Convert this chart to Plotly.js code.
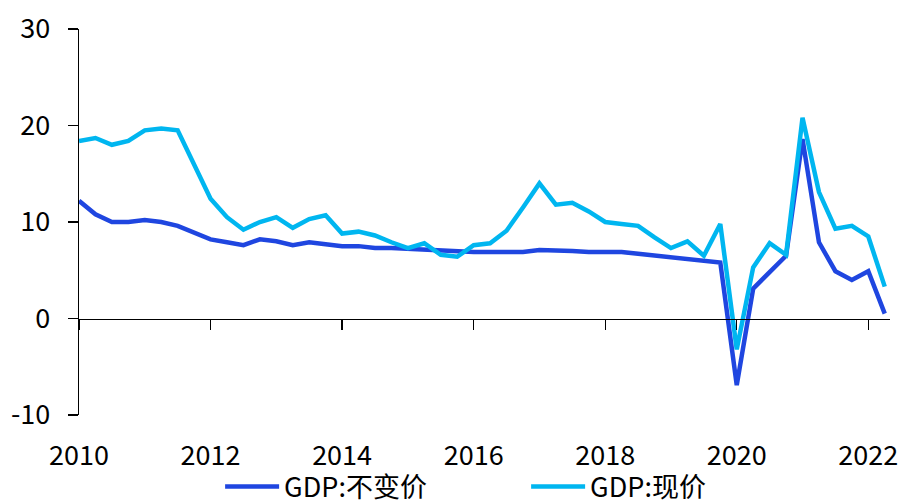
<!DOCTYPE html>
<html>
<head>
<meta charset="utf-8">
<script src="https://cdn.plot.ly/plotly-3.0.1.min.js"></script>
<style>html,body{margin:0;padding:0;background:#fff;}#chart{width:904px;height:500px;}</style>
</head>
<body>
<div id="chart"></div>
<script>
const quarters = [
  '2010Q1','2010Q2','2010Q3','2010Q4','2011Q1','2011Q2','2011Q3','2011Q4',
  '2012Q1','2012Q2','2012Q3','2012Q4','2013Q1','2013Q2','2013Q3','2013Q4',
  '2014Q1','2014Q2','2014Q3','2014Q4','2015Q1','2015Q2','2015Q3','2015Q4',
  '2016Q1','2016Q2','2016Q3','2016Q4','2017Q1','2017Q2','2017Q3','2017Q4',
  '2018Q1','2018Q2','2018Q3','2018Q4','2019Q1','2019Q2','2019Q3','2019Q4',
  '2020Q1','2020Q2','2020Q3','2020Q4','2021Q1','2021Q2','2021Q3','2021Q4',
  '2022Q1','2022Q2'
];
const gdpConstant = [
  12.2,10.8,10.0,10.0, 10.2,10.0,9.6,8.9,
  8.2,7.9,7.6,8.2, 8.0,7.6,7.9,7.7,
  7.5,7.5,7.3,7.3, 7.2,7.1,7.0,7.0,
  6.9,6.9,6.9,6.9, 7.1,7.1,7.0,6.9,
  6.9,6.9,6.7,6.5, 6.4,6.1,6.0,5.8,
  -6.9,3.1,4.8,6.5, 18.6,7.9,4.9,4.0,
  4.9,0.5
];
const gdpCurrent = [
  18.4,18.7,18.0,18.4, 19.5,19.7,19.5,16.0,
  12.4,10.5,9.2,10.0, 10.5,9.4,10.3,10.7,
  8.8,9.0,8.6,7.9, 7.3,7.8,6.6,6.4,
  7.6,7.8,9.1,11.5, 14.0,11.8,12.0,11.1,
  10.0,9.8,9.6,8.4, 7.3,8.0,6.5,9.8,
  -3.2,5.3,7.8,6.6, 20.8,13.1,9.3,9.6,
  8.5,3.3
];
const yearTicks = [2010,2012,2014,2016,2018,2020,2022];
const yTicks = [-10,0,10,20,30];
const yTickText = ['-10','0','10','20','30'];
const names = ['GDP:不变价','GDP:现价'];

const xPos = quarters.map(q => parseInt(q.slice(0,4)) + (parseInt(q.slice(5)) - 1) / 4);
const FONT = '"Noto Sans CJK SC", "Noto Sans", sans-serif';
const FS = 27;
const xRange = [2010, 2022.33];

const data = [
  {x: xPos, y: gdpConstant, name: names[0], type: 'scatter', mode: 'lines',
   line: {color: '#1F46E0', width: 4.5}, xaxis: 'x', yaxis: 'y'},
  {x: xPos, y: gdpCurrent, name: names[1], type: 'scatter', mode: 'lines',
   line: {color: '#00B6F0', width: 4.5}, xaxis: 'x2', yaxis: 'y'}
];

const layout = {
  width: 904, height: 500,
  margin: {l: 79, r: 14, t: 29, b: 85, autoexpand: false},
  paper_bgcolor: '#fff', plot_bgcolor: '#fff',
  font: {family: FONT, size: FS, color: '#000'},
  showlegend: true,
  legend: {orientation: 'h', x: 0.174, xanchor: 'left', y: -0.1865, yanchor: 'middle',
           font: {family: FONT, size: FS, color: '#000'}, itemwidth: 54,
           entrywidth: 237, entrywidthmode: 'pixels',
           bgcolor: 'rgba(0,0,0,0)', traceorder: 'normal'},
  xaxis: {range: xRange, tickvals: yearTicks, ticktext: yearTicks.map(String),
          showgrid: false, zeroline: false, showline: false, ticks: '',
          tickfont: {family: FONT, size: FS, color: '#000'}, ticklabelstandoff: 22},
  xaxis2: {range: xRange, overlaying: 'x', anchor: 'free', position: 0.25, side: 'bottom',
           tickvals: yearTicks, showticklabels: false, showgrid: false, zeroline: false,
           showline: true, linecolor: '#000', linewidth: 1.3,
           ticks: 'outside', ticklen: 10, tickwidth: 1.3, tickcolor: '#000'},
  yaxis: {range: [-10, 30], tickvals: yTicks, ticktext: yTickText, showgrid: false, zeroline: false,
          showline: true, linecolor: '#000', linewidth: 1.3,
          ticks: 'outside', ticklen: 10, tickwidth: 1.3, tickcolor: '#000',
          tickfont: {family: FONT, size: FS, color: '#000'}, ticklabelstandoff: 12}
};

Plotly.newPlot('chart', data, layout, {displayModeBar: false, staticPlot: true});
</script>
</body>
</html>
